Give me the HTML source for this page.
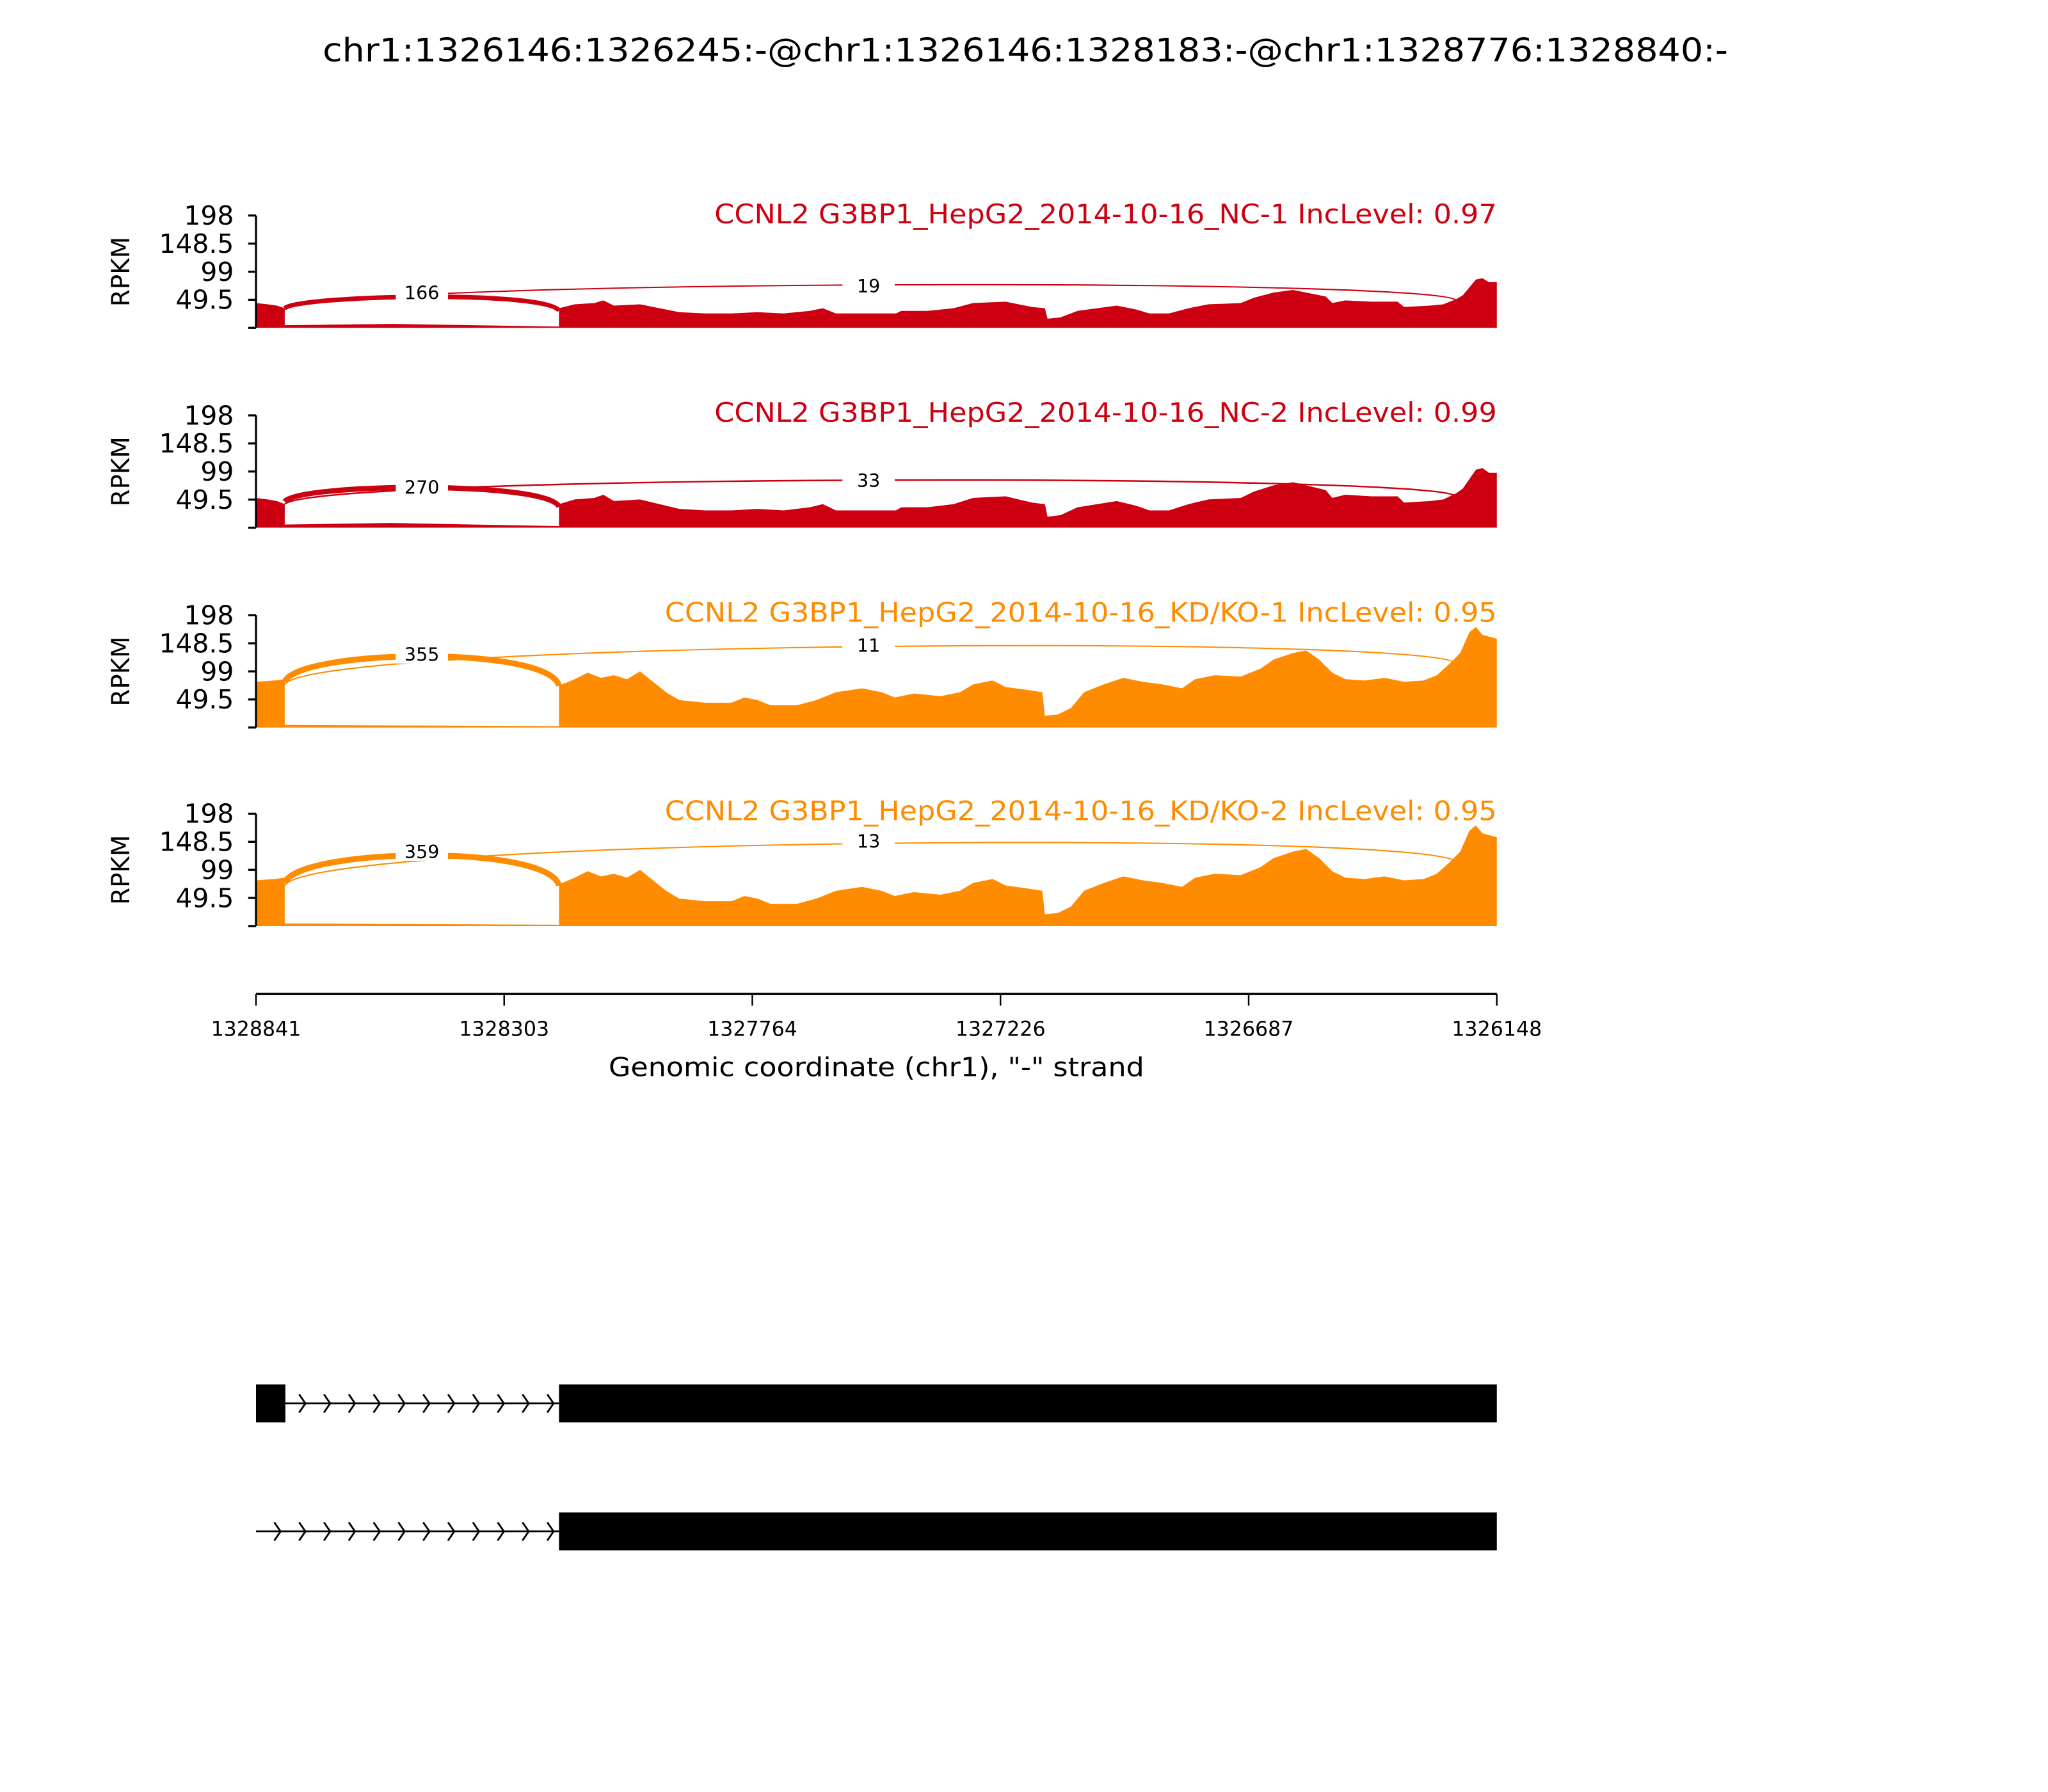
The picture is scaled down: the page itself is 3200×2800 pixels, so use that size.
<!DOCTYPE html>
<html><head><meta charset="utf-8"><style>html,body{margin:0;padding:0;background:#fff}svg{display:block}text{font-family:"DejaVu Sans","Liberation Sans",sans-serif}</style></head>
<body>
<svg width="3200" height="2800" viewBox="0 0 1568 1372" xmlns="http://www.w3.org/2000/svg">
<rect width="1568" height="1372" fill="#fff"/>
<text x="785" y="47" font-size="25" text-anchor="middle" textLength="1076" lengthAdjust="spacingAndGlyphs">chr1:1326146:1326245:-@chr1:1326146:1328183:-@chr1:1328776:1328840:-</text>

<defs>
<path id="covA" d="M196,251 L196,232 L205,233 L212,234 L218,236 L218,249 L300,248 L428,250 L428,236 L440,233 L455,232 L462,230 L470,234 L490,233 L505,236 L520,239 L540,240 L560,240 L580,239 L600,240 L620,238 L630,236 L640,240 L686,240 L690,238 L710,238 L730,236 L745,232 L770,231 L790,235 L800,236 L802,244 L812,243 L825,238 L840,236 L855,234 L870,237 L880,240 L895,240 L910,236 L925,233 L950,232 L960,228 L975,224 L990,222 L1000,224 L1015,227 L1020,232 L1030,230 L1050,231 L1070,231 L1075,235 L1095,234 L1105,233 L1110,231 L1115,229 L1120,226 L1125,220 L1130,214 L1135,213 L1140,216 L1146,216 L1146,251 Z"/>
<path id="covB" d="M196,557 L196,522 L210,521 L218,520 L218,555 L428,556 L428,525 L440,520 L450,515 L460,519 L470,517 L480,520 L490,514 L500,522 L510,530 L520,536 L540,538 L560,538 L570,534 L580,536 L590,540 L610,540 L625,536 L640,530 L660,527 L675,530 L685,534 L700,531 L720,533 L735,530 L745,524 L760,521 L770,526 L785,528 L798,530 L800,548 L810,547 L820,542 L830,530 L845,524 L860,519 L875,522 L890,524 L905,527 L915,520 L930,517 L950,518 L965,512 L975,505 L990,500 L1000,498 L1010,505 L1020,515 L1030,520 L1045,521 L1060,519 L1075,522 L1090,521 L1100,517 L1110,508 L1118,500 L1125,484 L1130,480 L1135,486 L1146,489 L1146,557 Z"/>
</defs>

<g>
<use href="#covA" fill="#cc0011"/>
<path d="M218,236 C228,226 420,222 428,238" fill="none" stroke="#cc0011" stroke-width="3.5"/>
<path d="M218,237 C240,214 1100,212 1115,230" fill="none" stroke="#cc0011" stroke-width="1"/>
<rect x="303" y="215" width="40" height="16" fill="#fff"/><text x="323" y="229" font-size="14" text-anchor="middle">166</text>
<rect x="645" y="210" width="40" height="16" fill="#fff"/><text x="665" y="224" font-size="14" text-anchor="middle">19</text>
<text x="1146" y="171" font-size="20.5" fill="#cc0011" text-anchor="end" textLength="599" lengthAdjust="spacingAndGlyphs">CCNL2 G3BP1_HepG2_2014-10-16_NC-1 IncLevel: 0.97</text>
</g>
<g>
<use href="#covA" fill="#cc0011" transform="translate(0,404) scale(1,1.2) translate(0,-251)"/>
<path d="M218,384 C228,370 420,368 428,388" fill="none" stroke="#cc0011" stroke-width="4"/>
<path d="M218,386 C240,363 1100,362 1115,380" fill="none" stroke="#cc0011" stroke-width="1.2"/>
<rect x="303" y="364" width="40" height="16" fill="#fff"/><text x="323" y="378" font-size="14" text-anchor="middle">270</text>
<rect x="645" y="359" width="40" height="16" fill="#fff"/><text x="665" y="373" font-size="14" text-anchor="middle">33</text>
<text x="1146" y="323" font-size="20.5" fill="#cc0011" text-anchor="end" textLength="599" lengthAdjust="spacingAndGlyphs">CCNL2 G3BP1_HepG2_2014-10-16_NC-2 IncLevel: 0.99</text>
</g>
<g>
<use href="#covB" fill="#ff8c00"/>
<path d="M218,522 C228,497 420,494 428,525" fill="none" stroke="#ff8c00" stroke-width="4.5"/>
<path d="M218,524 C240,490 1100,486 1115,508" fill="none" stroke="#ff8c00" stroke-width="1"/>
<rect x="303" y="492" width="40" height="16" fill="#fff"/><text x="323" y="506" font-size="14" text-anchor="middle">355</text>
<rect x="645" y="485" width="40" height="16" fill="#fff"/><text x="665" y="499" font-size="14" text-anchor="middle">11</text>
<text x="1146" y="476" font-size="20.5" fill="#ff8c00" text-anchor="end" textLength="637" lengthAdjust="spacingAndGlyphs">CCNL2 G3BP1_HepG2_2014-10-16_KD/KO-1 IncLevel: 0.95</text>
</g>
<g>
<use href="#covB" fill="#ff8c00" transform="translate(0,152)"/>
<path d="M218,676 C228,649 420,646 428,678" fill="none" stroke="#ff8c00" stroke-width="4.5"/>
<path d="M218,678 C240,640 1100,636 1115,660" fill="none" stroke="#ff8c00" stroke-width="1"/>
<rect x="303" y="643" width="40" height="16" fill="#fff"/><text x="323" y="657" font-size="14" text-anchor="middle">359</text>
<rect x="645" y="635" width="40" height="16" fill="#fff"/><text x="665" y="649" font-size="14" text-anchor="middle">13</text>
<text x="1146" y="628" font-size="20.5" fill="#ff8c00" text-anchor="end" textLength="637" lengthAdjust="spacingAndGlyphs">CCNL2 G3BP1_HepG2_2014-10-16_KD/KO-2 IncLevel: 0.95</text>
</g>

<g stroke="#000" stroke-width="1.6" fill="none">
<path d="M196,165 V251 M190,165 H196 M190,186.5 H196 M190,208 H196 M190,229.5 H196 M190,251 H196"/>
<path d="M196,318 V404 M190,318 H196 M190,339.5 H196 M190,361 H196 M190,382.5 H196 M190,404 H196"/>
<path d="M196,471 V557 M190,471 H196 M190,492.5 H196 M190,514 H196 M190,535.5 H196 M190,557 H196"/>
<path d="M196,623 V709 M190,623 H196 M190,644.5 H196 M190,666 H196 M190,687.5 H196 M190,709 H196"/>
</g>
<g font-size="20" text-anchor="end">
<text x="179" y="172">198</text><text x="179" y="193.5">148.5</text><text x="179" y="215">99</text><text x="179" y="236.5">49.5</text>
<text x="179" y="325">198</text><text x="179" y="346.5">148.5</text><text x="179" y="368">99</text><text x="179" y="389.5">49.5</text>
<text x="179" y="478">198</text><text x="179" y="499.5">148.5</text><text x="179" y="521">99</text><text x="179" y="542.5">49.5</text>
<text x="179" y="630">198</text><text x="179" y="651.5">148.5</text><text x="179" y="673">99</text><text x="179" y="694.5">49.5</text>
</g>
<g font-size="19" text-anchor="middle">
<text transform="translate(99,208) rotate(-90)">RPKM</text>
<text transform="translate(99,361) rotate(-90)">RPKM</text>
<text transform="translate(99,514) rotate(-90)">RPKM</text>
<text transform="translate(99,666) rotate(-90)">RPKM</text>
</g>

<g stroke="#000" fill="none">
<path d="M196,761 H1146" stroke-width="1.8"/>
<path d="M196,761 V770 M386,761 V770 M576,761 V770 M766,761 V770 M956,761 V770 M1146,761 V770" stroke-width="1.2"/>
</g>
<g font-size="15.5" text-anchor="middle">
<text x="196" y="793">1328841</text><text x="386" y="793">1328303</text><text x="576" y="793">1327764</text>
<text x="766" y="793">1327226</text><text x="956" y="793">1326687</text><text x="1146" y="793">1326148</text>
</g>
<text x="671" y="824" font-size="20" text-anchor="middle" textLength="410" lengthAdjust="spacingAndGlyphs">Genomic coordinate (chr1), "-" strand</text>

<rect x="196" y="1060" width="22.5" height="29" fill="#000"/>
<rect x="428" y="1060" width="718" height="29" fill="#000"/>
<path d="M218,1074.5 H428" stroke="#000" stroke-width="1.4"/>
<rect x="428" y="1158" width="718" height="29" fill="#000"/>
<path d="M196,1172.5 H428" stroke="#000" stroke-width="1.4"/>
<g stroke="#000" stroke-width="1.4" fill="none">
<path d="M229,1067.5 L233.8,1074.5 L229,1081.5 M248,1067.5 L252.8,1074.5 L248,1081.5 M267,1067.5 L271.8,1074.5 L267,1081.5 M286,1067.5 L290.8,1074.5 L286,1081.5 M305,1067.5 L309.8,1074.5 L305,1081.5 M324,1067.5 L328.8,1074.5 L324,1081.5 M343,1067.5 L347.8,1074.5 L343,1081.5 M362,1067.5 L366.8,1074.5 L362,1081.5 M381,1067.5 L385.8,1074.5 L381,1081.5 M400,1067.5 L404.8,1074.5 L400,1081.5 M419,1067.5 L423.8,1074.5 L419,1081.5"/>
<path d="M210,1165.5 L214.8,1172.5 L210,1179.5 M229,1165.5 L233.8,1172.5 L229,1179.5 M248,1165.5 L252.8,1172.5 L248,1179.5 M267,1165.5 L271.8,1172.5 L267,1179.5 M286,1165.5 L290.8,1172.5 L286,1179.5 M305,1165.5 L309.8,1172.5 L305,1179.5 M324,1165.5 L328.8,1172.5 L324,1179.5 M343,1165.5 L347.8,1172.5 L343,1179.5 M362,1165.5 L366.8,1172.5 L362,1179.5 M381,1165.5 L385.8,1172.5 L381,1179.5 M400,1165.5 L404.8,1172.5 L400,1179.5 M419,1165.5 L423.8,1172.5 L419,1179.5"/>
</g>
</svg>
</body></html>
